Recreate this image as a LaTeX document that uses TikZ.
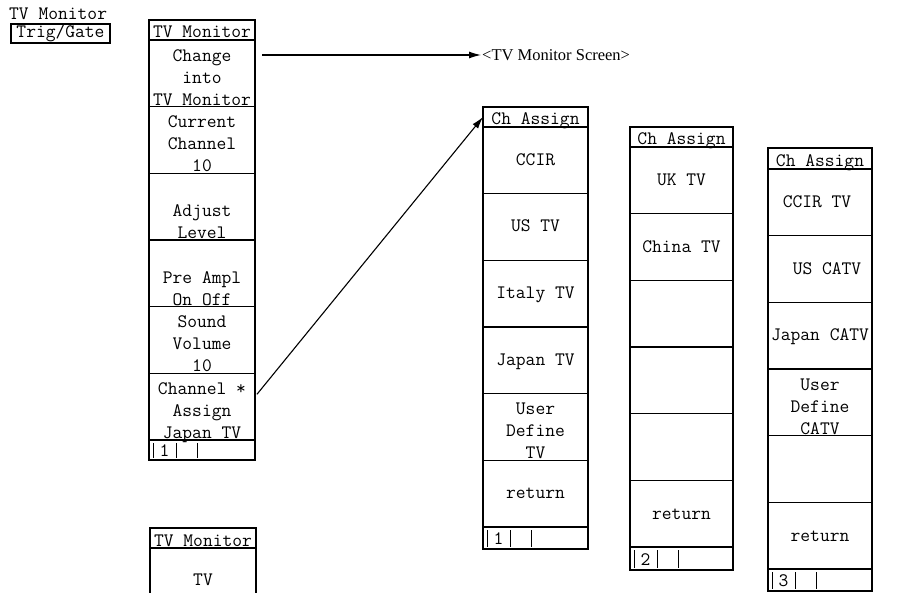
\documentclass[tikz,border=0pt]{standalone}
\usepackage{fontspec}
\newfontfamily\serifscr{Liberation Serif}
\usetikzlibrary{arrows.meta}
\newcommand\ktxt[4]{\foreach \s [count=\n] in {#4} {\node[kt] (#1-\n) at (#2,{#3+22*(\n-1)}) {\s};}}
\begin{document}
\begin{tikzpicture}[x=1pt,y=-1pt,
  box/.style={draw, line width=1.1pt, inner sep=0pt, outer sep=0pt, anchor=north west},
  titlerule/.style={line width=1.7pt},
  kt/.style={inner sep=0pt, anchor=base, font=\ttfamily\fontsize{19}{22}\selectfont},
  bar/.style={line width=0.9pt},
  arr/.style={-{Latex[length=12pt,width=7pt]}, line width=1.1pt}]
\useasboundingbox (0,0) rectangle (904,593);
\fill[white] (0,0) rectangle (904,593);

% top-left softkey
\node[kt, anchor=base west] (tlt) at (9,20) {TV Monitor};
\node[draw, line width=1.1pt, inner sep=0pt, minimum width=99pt, minimum height=19pt,
      text height=11pt, text depth=3pt, font=\ttfamily\fontsize{19}{22}\selectfont] (trig) at (60.5,33.5) {Trig/Gate};

% ---------- column 1 ----------
\node[box, minimum width=106pt, minimum height=20pt] (c1t) at (149,20) {};
\foreach \i in {1,...,6} \node[box, minimum width=106pt, minimum height=66.67pt] (c1k\i) at (149,{40+66.67*(\i-1)}) {};
\node[box, minimum width=106pt, minimum height=20pt] (c1b) at (149,440) {};
\draw[titlerule] (c1t.south west) -- (c1t.south east);
\node[kt] (c1tt) at (202,38) {TV Monitor};
\ktxt{c1a}{202}{61.2}{Change,into,TV Monitor}
\ktxt{c1b}{202}{127.8}{Current,Channel,10}
\ktxt{c1c}{202}{216.5}{Adjust,Level}
\ktxt{c1d}{202}{283.2}{Pre Ampl,On Off}
\ktxt{c1e}{202}{327.8}{Sound,Volume,10}
\ktxt{c1f}{202}{394.5}{Channel *,Assign,Japan TV}
\draw[bar] (153,443) -- (153,458);
\draw[bar] (176,443) -- (176,458);
\draw[bar] (197,443) -- (197,458);
\node[kt] (c1n) at (164.5,456) {1};

% ---------- column 2 ----------
\node[box, minimum width=105pt, minimum height=20pt] (c2t) at (483,107) {};
\foreach \i in {1,...,6} \node[box, minimum width=105pt, minimum height=66.67pt] (c2k\i) at (483,{127+66.67*(\i-1)}) {};
\node[box, minimum width=105pt, minimum height=22pt] (c2b) at (483,527) {};
\draw[titlerule] (c2t.south west) -- (c2t.south east);
\node[kt] (c2tt) at (535.5,125) {Ch Assign};
\node[kt] (c2a) at (535.5,165.5) {CCIR};
\node[kt] (c2bb) at (535.5,232) {US TV};
\node[kt] (c2c) at (535.5,298.7) {Italy TV};
\node[kt] (c2d) at (535.5,365.5) {Japan TV};
\ktxt{c2e}{535.5}{414.8}{User,Define,TV}
\node[kt] (c2f) at (535.5,498.7) {return};
\draw[bar] (487,530) -- (487,547);
\draw[bar] (510,530) -- (510,547);
\draw[bar] (531,530) -- (531,547);
\node[kt] (c2n) at (498.5,544) {1};

% ---------- column 3 ----------
\node[box, minimum width=103pt, minimum height=20pt] (c3t) at (630,127) {};
\foreach \i in {1,...,6} \node[box, minimum width=103pt, minimum height=66.67pt] (c3k\i) at (630,{147+66.67*(\i-1)}) {};
\node[box, minimum width=103pt, minimum height=23pt] (c3b) at (630,547) {};
\draw[titlerule] (c3t.south west) -- (c3t.south east);
\node[kt] (c3tt) at (681.5,145) {Ch Assign};
\node[kt] (c3a) at (681.5,186) {UK TV};
\node[kt] (c3bb) at (681.5,252.5) {China TV};
\node[kt] (c3f) at (681.5,519) {return};
\draw[bar] (634,550) -- (634,568);
\draw[bar] (657,550) -- (657,568);
\draw[bar] (678,550) -- (678,568);
\node[kt] (c3n) at (645.5,565) {2};

% ---------- column 4 ----------
\node[box, minimum width=104pt, minimum height=21pt] (c4t) at (768,148) {};
\foreach \i in {1,...,6} \node[box, minimum width=104pt, minimum height=66.67pt] (c4k\i) at (768,{169+66.67*(\i-1)}) {};
\node[box, minimum width=104pt, minimum height=22pt] (c4b) at (768,569) {};
\draw[titlerule] (c4t.south west) -- (c4t.south east);
\node[kt] (c4tt) at (820,167) {Ch Assign};
\node[kt] (c4a) at (817,208) {CCIR TV};
\node[kt] (c4bb) at (827,274.5) {US CATV};
\node[kt] (c4c) at (820,341) {Japan CATV};
\ktxt{c4e}{820}{390.2}{User,Define,CATV}
\node[kt] (c4f) at (820,541) {return};
\draw[bar] (772,572) -- (772,589);
\draw[bar] (795,572) -- (795,589);
\draw[bar] (816,572) -- (816,589);
\node[kt] (c4n) at (783.5,586) {3};

% ---------- bottom-left partial menu ----------
\node[box, minimum width=106pt, minimum height=20pt] (c5t) at (150,528) {};
\draw[titlerule] (c5t.south west) -- (c5t.south east);
\draw[line width=1.1pt] (c5t.south west) -- (150,593);
\draw[line width=1.1pt] (c5t.south east) -- (256,593);
\node[kt] (c5tt) at (203,546) {TV Monitor};
\node[kt] (c5a) at (203,585) {TV};

% ---------- connectors ----------
\node[inner sep=1pt, anchor=west, font=\serifscr\fontsize{16.5}{20}\selectfont] (scr) at (481,55) {<TV Monitor Screen>};
\draw[arr, shorten <=7pt] (c1k1.east |- scr.west) -- (scr.west);
\draw[arr, shorten <=3pt] ([yshift=10pt]c1k6.east) -- (c2t.west);
\end{tikzpicture}
\end{document}
